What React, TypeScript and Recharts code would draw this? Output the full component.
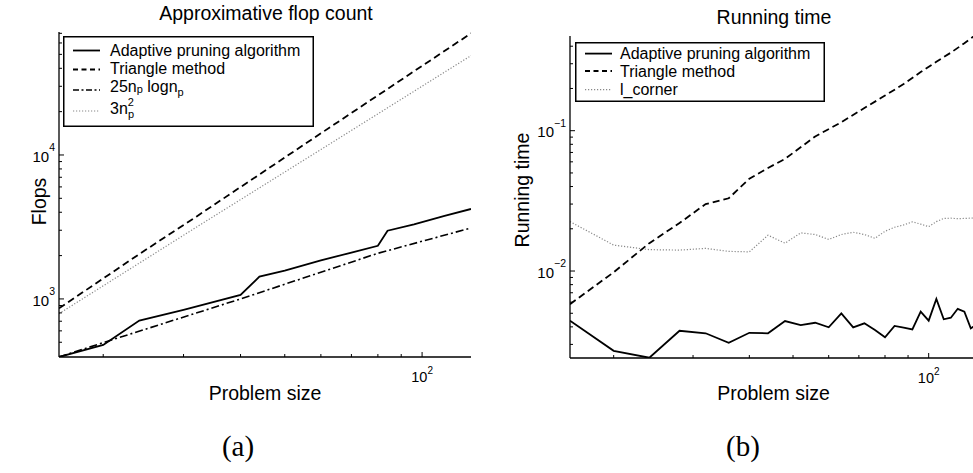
import React from 'react'
import { LineChart, Line, XAxis, YAxis, Legend, Label } from 'recharts'

const FONT = '"Liberation Sans", Arial, Helvetica, sans-serif'

// (a) approximative flop count
const adaptiveN = [16, 20, 24, 30, 40, 44, 50, 60, 70, 80, 84, 96, 112, 128]
const adaptiveFlops = [395, 479, 707, 839, 1066, 1429, 1570, 1850, 2100, 2340, 2980, 3300, 3770, 4217]
const triangleN = [16, 24, 32, 64, 128]
const triangleFlops = [860, 2050, 3730, 16200, 70000]
const nlognN = [16, 20, 40, 80, 128]
const nlognFlops = [395, 497, 1000, 2075, 3110]
const squareN = [16, 32, 64, 128]
const squareFlops = [790, 3150, 12400, 49000]

// (b) running time
const sizesB = [16, 20, 24, 28, 32, 36, 40, 44, 48, 52, 56, 60, 64, 68, 72, 76, 80, 84, 88, 92, 96, 100, 104, 108, 112, 116, 120, 124, 128]
const adaptiveTime = [0.00443, 0.0027, 0.00241, 0.00375, 0.0036, 0.00308, 0.00363, 0.0036, 0.0044, 0.00412, 0.00428, 0.00397, 0.00499, 0.00397, 0.00424, 0.0038, 0.00337, 0.00406, 0.00395, 0.00384, 0.00513, 0.00443, 0.00632, 0.00453, 0.00465, 0.00538, 0.00513, 0.0039, 0.0042]
const lcornerTime = [0.0225, 0.0153, 0.0142, 0.0141, 0.0145, 0.0138, 0.0137, 0.018, 0.0158, 0.0187, 0.0182, 0.0168, 0.0182, 0.0189, 0.0182, 0.0171, 0.0192, 0.0205, 0.0213, 0.0224, 0.0216, 0.0207, 0.0225, 0.0237, 0.0238, 0.0236, 0.0237, 0.0238, 0.024]
const triangleTimeN = [16, 20, 24, 28, 32, 36, 40, 44, 48, 56, 64, 72, 80, 88, 96, 104, 112, 120, 128]
const triangleTime = [0.0058, 0.0098, 0.0158, 0.022, 0.03, 0.033, 0.0455, 0.0542, 0.063, 0.091, 0.115, 0.145, 0.178, 0.215, 0.262, 0.31, 0.36, 0.42, 0.49]

// ticks
const xTicks = [20, 30, 40, 50, 60, 70, 80, 90, 100]
const flopTicks = [400, 500, 600, 700, 800, 900, 1000, 2000, 3000, 4000, 5000, 6000, 7000, 8000, 9000, 10000, 20000, 30000, 40000, 50000, 60000, 70000]
const timeTicks = [0.003, 0.004, 0.005, 0.006, 0.007, 0.008, 0.009, 0.01, 0.02, 0.03, 0.04, 0.05, 0.06, 0.07, 0.08, 0.09, 0.1, 0.2, 0.3, 0.4]

const zip = (xs: number[], ys: number[]) => xs.map((n, i) => ({ n, v: ys[i] }))

const isDecade = (v: number) => {
  const e = Math.log10(v)
  return Math.abs(e - Math.round(e)) < 1e-6
}
const expo = (v: number) => {
  const e = Math.round(Math.log10(v))
  return e < 0 ? '\u2212' + Math.abs(e) : String(e)
}

const BottomTick = (props: any) => {
  const { x, y, payload } = props
  const major = isDecade(payload.value)
  return (
    <g>
      <line x1={x} x2={x} y1={y} y2={y - (major ? 5 : 3)} stroke="#000" />
      {major && (
        <text x={x} y={y + 25} textAnchor="middle" fontSize={14.5} fontFamily={FONT} fill="#000">
          10<tspan dy={-8.5} fontSize={10}>{expo(payload.value)}</tspan>
        </text>
      )}
    </g>
  )
}

const TopTick = (props: any) => {
  const { x, y, payload } = props
  const major = isDecade(payload.value)
  return <line x1={x} x2={x} y1={y} y2={y + (major ? 5 : 3)} stroke="#000" />
}

const LeftTick = (props: any) => {
  const { x, y, payload } = props
  const major = isDecade(payload.value)
  return (
    <g>
      <line x1={x} x2={x + (major ? 5 : 3)} y1={y} y2={y} stroke="#000" />
      {major && (
        <text x={x - 4} y={y + 6.7} textAnchor="end" fontSize={15} fontFamily={FONT} fill="#000">
          10<tspan dy={-10.5} fontSize={10.5}>{expo(payload.value)}</tspan>
        </text>
      )}
    </g>
  )
}

const RightTick = (props: any) => {
  const { x, y, payload } = props
  const major = isDecade(payload.value)
  return <line x1={x} x2={x - (major ? 5 : 3)} y1={y} y2={y} stroke="#000" />
}

const SOLID = { stroke: '#000', strokeWidth: 1.8 }
const DASHED = { stroke: '#000', strokeWidth: 1.8, strokeDasharray: '7 4' }
const DASHDOT = { stroke: '#000', strokeWidth: 1.6, strokeDasharray: '8 3 2 3' }
const DOTTED = { stroke: '#888', strokeWidth: 1.2, strokeDasharray: '1.2 1.8' }

const FlopLegend = () => (
  <svg width={251} height={91} style={{ display: 'block' }}>
    <rect x={0.75} y={0.75} width={249.5} height={89.5} fill="#fff" stroke="#000" strokeWidth={1.5} />
    <g fontFamily={FONT} fontSize={16} fill="#000">
      <line x1={10} x2={37} y1={14.5} y2={14.5} {...SOLID} />
      <text x={47} y={20}>Adaptive pruning algorithm</text>
      <line x1={10} x2={37} y1={33.5} y2={33.5} {...DASHED} strokeDasharray="5 3.5" />
      <text x={47} y={37.5}>Triangle method</text>
      <line x1={10} x2={37} y1={54} y2={54} {...DASHDOT} strokeDasharray="6 2.5 2 2.5" />
      <text x={47} y={56}>
        25n<tspan dy={1} fontSize={11}>p</tspan>
        <tspan dy={-1}> logn</tspan>
        <tspan dy={4} fontSize={11}>p</tspan>
      </text>
      <line x1={10} x2={37} y1={75} y2={75} {...DOTTED} />
      <text x={47} y={78}>
        3n<tspan dy={-8} fontSize={11}>2</tspan>
        <tspan x={65} dy={12} fontSize={11}>p</tspan>
      </text>
    </g>
  </svg>
)

const TimeLegend = () => (
  <svg width={250} height={60} style={{ display: 'block' }}>
    <rect x={0.75} y={0.75} width={248.5} height={58.5} fill="#fff" stroke="#000" strokeWidth={1.5} />
    <g fontFamily={FONT} fontSize={16} fill="#000">
      <line x1={10} x2={37} y1={11.6} y2={11.6} {...SOLID} />
      <text x={45} y={17}>Adaptive pruning algorithm</text>
      <line x1={10} x2={37} y1={29} y2={29} {...DASHED} strokeDasharray="5 3.5" />
      <text x={45} y={34.5}>Triangle method</text>
      <line x1={10} x2={37} y1={47.6} y2={47.6} {...DOTTED} />
      <text x={45} y={53}>l_corner</text>
    </g>
  </svg>
)

const FlopChart = () => (
  <LineChart width={490} height={473} margin={{ top: 32, right: 19, bottom: 73, left: 9 }}>
    <XAxis dataKey="n" type="number" scale="log" domain={[16, 128]} ticks={xTicks} allowDataOverflow
      interval={0} height={43} tickSize={0} tickMargin={0} tickLine={false} tick={<BottomTick />}
      axisLine={{ stroke: '#000', strokeWidth: 1.3 }}>
      <Label value="Problem size" position="insideBottom" offset={0} fontSize={19.5} fontFamily={FONT} fill="#000" />
    </XAxis>
    <XAxis xAxisId="top" orientation="top" type="number" scale="log" domain={[16, 128]} ticks={xTicks} allowDataOverflow
      interval={0} height={0} tickSize={0} tickMargin={0} tickLine={false} tick={<TopTick />}
      axisLine={{ stroke: '#000', strokeWidth: 1.3 }} />
    <YAxis dataKey="v" type="number" scale="log" domain={[395, 71500]} ticks={flopTicks} allowDataOverflow
      interval={0} width={50} tickSize={0} tickMargin={0} tickLine={false} tick={<LeftTick />}
      axisLine={{ stroke: '#000', strokeWidth: 1.3 }}>
      <Label value="Flops" angle={-90} position="insideLeft" offset={30} dy={7} fontSize={19.5}
        fontFamily={FONT} fill="#000" style={{ textAnchor: 'middle' }} />
    </YAxis>
    <YAxis yAxisId="right" orientation="right" type="number" scale="log" domain={[395, 71500]} ticks={flopTicks}
      allowDataOverflow interval={0} width={0} tickSize={0} tickMargin={0} tickLine={false} tick={<RightTick />}
      axisLine={{ stroke: '#000', strokeWidth: 1.3 }} />
    <Line data={zip(squareN, squareFlops)} dataKey="v" type="linear" dot={false} isAnimationActive={false} {...DOTTED} />
    <Line data={zip(triangleN, triangleFlops)} dataKey="v" type="linear" dot={false} isAnimationActive={false} {...DASHED} />
    <Line data={zip(nlognN, nlognFlops)} dataKey="v" type="linear" dot={false} isAnimationActive={false} {...DASHDOT} />
    <Line data={zip(adaptiveN, adaptiveFlops)} dataKey="v" type="linear" dot={false} isAnimationActive={false} {...SOLID} />
    <Legend layout="vertical" align="center" verticalAlign="middle" content={<FlopLegend />}
      wrapperStyle={{ left: 63, top: 36, width: 251, height: 91 }} />
  </LineChart>
)

const TimeChart = () => (
  <LineChart width={507} height={473} margin={{ top: 36, right: 20, bottom: 73, left: 30 }}>
    <XAxis dataKey="n" type="number" scale="log" domain={[16, 128]} ticks={xTicks} allowDataOverflow
      interval={0} height={42} tickSize={0} tickMargin={0} tickLine={false} tick={<BottomTick />}
      axisLine={{ stroke: '#000', strokeWidth: 1.3 }}>
      <Label value="Problem size" position="insideBottom" offset={0} fontSize={19.5} fontFamily={FONT} fill="#000" />
    </XAxis>
    <XAxis xAxisId="top" orientation="top" type="number" scale="log" domain={[16, 128]} ticks={xTicks} allowDataOverflow
      interval={0} height={0} tickSize={0} tickMargin={0} tickLine={false} tick={<TopTick />}
      axisLine={{ stroke: '#000', strokeWidth: 1.3 }} />
    <YAxis dataKey="v" type="number" scale="log" domain={[0.0024, 0.473]} ticks={timeTicks} allowDataOverflow
      interval={0} width={50} tickSize={0} tickMargin={0} tickLine={false} tick={<LeftTick />}
      axisLine={{ stroke: '#000', strokeWidth: 1.3 }}>
      <Label value="Running time" angle={-90} position="insideLeft" offset={2} dy={-7} fontSize={19.5}
        fontFamily={FONT} fill="#000" style={{ textAnchor: 'middle' }} />
    </YAxis>
    <YAxis yAxisId="right" orientation="right" type="number" scale="log" domain={[0.0024, 0.473]} ticks={timeTicks}
      allowDataOverflow interval={0} width={0} tickSize={0} tickMargin={0} tickLine={false} tick={<RightTick />}
      axisLine={{ stroke: '#000', strokeWidth: 1.3 }} />
    <Line data={zip(sizesB, lcornerTime)} dataKey="v" type="linear" dot={false} isAnimationActive={false} {...DOTTED} />
    <Line data={zip(triangleTimeN, triangleTime)} dataKey="v" type="linear" dot={false} isAnimationActive={false} {...DASHED} />
    <Line data={zip(sizesB, adaptiveTime)} dataKey="v" type="linear" dot={false} isAnimationActive={false} {...SOLID} />
    <Legend layout="vertical" align="center" verticalAlign="middle" content={<TimeLegend />}
      wrapperStyle={{ left: 85, top: 42, width: 250, height: 60 }} />
  </LineChart>
)

export default function App() {
  return (
    <div style={{ position: 'absolute', left: 0, top: 0, width: 973, height: 473, overflow: 'hidden', background: '#fff' }}>
      <div style={{ position: 'absolute', left: 0, top: 0 }}>
        <FlopChart />
      </div>
      <div style={{ position: 'absolute', left: 490, top: 0 }}>
        <TimeChart />
      </div>
      <svg width={973} height={473} style={{ position: 'absolute', left: 0, top: 0, pointerEvents: 'none' }}>
        <g fontFamily={FONT} fontSize={19.5} fill="#000" textAnchor="middle">
          <text x={266} y={20}>Approximative flop count</text>
          <text x={774} y={24}>Running time</text>
        </g>
        <g fontFamily='"Liberation Serif", "DejaVu Serif", serif' fontSize={29} fill="#000" textAnchor="middle">
          <text x={238} y={456}>(a)</text>
          <text x={743} y={456}>(b)</text>
        </g>
      </svg>
    </div>
  )
}
